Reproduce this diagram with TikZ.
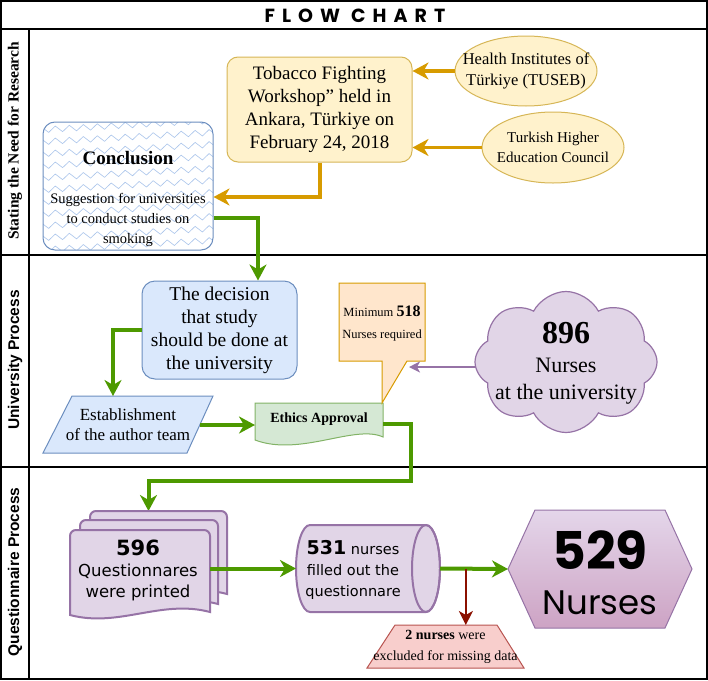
\documentclass[tikz,border=0pt]{standalone}
\usepackage{fontspec}
\setmainfont{Liberation Serif}
\setsansfont{Liberation Sans}
\newfontfamily\verd{DejaVu Sans}
\newfontfamily\comicf{Poppins}
\newfontfamily\titlef[LetterSpace=37]{Poppins}
\usetikzlibrary{arrows.meta,shapes.geometric,shapes.symbols,decorations.pathmorphing,calc}
\definecolor{yfill}{HTML}{FFF2CC}
\definecolor{ydraw}{HTML}{D6B656}
\definecolor{gld}{HTML}{D79B00}
\definecolor{bfill}{HTML}{DAE8FC}
\definecolor{bdraw}{HTML}{6C8EBF}
\definecolor{zzc}{HTML}{A9C4EB}
\definecolor{gfill}{HTML}{D5E8D4}
\definecolor{gdraw}{HTML}{82B366}
\definecolor{grn}{HTML}{4D9900}
\definecolor{ofill}{HTML}{FFE6CC}
\definecolor{odraw}{HTML}{D79B00}
\definecolor{pfill}{HTML}{E1D5E7}
\definecolor{pdraw}{HTML}{9673A6}
\definecolor{hextop}{HTML}{E4D6EA}
\definecolor{hexbot}{HTML}{CDA3C4}
\definecolor{rfill}{HTML}{F8CECC}
\definecolor{rdraw}{HTML}{B85450}
\definecolor{darkred}{HTML}{8B1000}
\newcommand\qdocpath[4]{(#1,#4) -- (#1,{#2+6}) to[out=90,in=180] ({#1+6},#2) -- ({#3-6},#2) to[out=0,in=90] (#3,{#2+6}) -- (#3,{#4-3}) .. controls ({#3-0.35*(#3-#1)},{#4-16}) and ({#1+0.35*(#3-#1)},{#4+13}) .. (#1,#4) -- cycle}
\begin{document}
\begin{tikzpicture}[x=1pt,y=-1pt,
  lane/.style={line width=1.5pt},
  ghost/.style={inner sep=0pt, outer sep=0pt},
  grarrow/.style={draw=grn, line width=4pt, -{Stealth[length=16pt,width=17pt,inset=5pt]}},
  goldarrow/.style={draw=gld, line width=3.5pt, -{Stealth[length=16pt,width=17pt,inset=5pt]}},
  purparrow/.style={draw=pdraw, line width=1.5pt, -{Stealth[length=11pt,width=11pt,inset=3pt]}},
  redarrow/.style={draw=darkred, line width=2pt, -{Stealth[length=14pt,width=14pt,inset=4pt]}}
]
\useasboundingbox (0,0) rectangle (708,680);
% frame and lanes
\draw[lane] (1,1) rectangle (707,679);
\draw[lane] (1,29) -- (707,29);
\draw[lane] (29,29) -- (29,679);
\draw[lane] (1,255) -- (707,255);
\draw[lane] (1,467) -- (707,467);
\node[font=\titlef\bfseries\fontsize{19}{22}\selectfont] (title) at (355,16) {FLOW CHART};
\node[rotate=90, font=\bfseries\fontsize{15.5}{18}\selectfont] (lane1) at (15,141) {Stating the Need for Research};
\node[rotate=90, font=\sffamily\bfseries\fontsize{15.5}{18}\selectfont] (lane2) at (15,360) {University Process};
\node[rotate=90, font=\sffamily\bfseries\fontsize{15.5}{18}\selectfont] (lane3) at (15,572) {Questionnaire Process};

% ---------- lane 1
\node[draw=ydraw, fill=yfill, line width=1pt, rounded corners=11pt, minimum width=185pt, minimum height=105pt, align=center, font=\fontsize{19}{23}\selectfont] (tob) at (319.5,109.5) {Tobacco Fighting\\Workshop” held in\\Ankara, Türkiye on\\February 24, 2018};
\node[ellipse, draw=ydraw, fill=yfill, line width=1pt, minimum width=142pt, minimum height=70pt, inner sep=0pt] (hit) at (526,71) {};
\node[align=center, font=\fontsize{16.5}{21}\selectfont] (hitT) at (hit) {Health Institutes of\\Türkiye (TUSEB)};
\node[ellipse, draw=ydraw, fill=yfill, line width=1pt, minimum width=142pt, minimum height=71pt, inner sep=0pt] (the) at (553,147.5) {};
\node[align=center, font=\fontsize{15}{20}\selectfont] (theT) at (the) {Turkish Higher\\Education Council};
\draw[goldarrow] (hit.west) -- (hit.west -| tob.east);
\draw[goldarrow] (the.west) -- (the.west -| tob.east);

% conclusion with zigzag pattern
\begin{scope}
\clip[rounded corners=12pt] (43,122) rectangle (213,250);
\fill[white] (43,122) rectangle (213,250);
\foreach \yy in {118,130,...,262}
  \draw[zzc, line width=0.6pt, decorate, decoration={zigzag, segment length=14pt, amplitude=3pt}] (38,\yy) -- (220,\yy-10);
\end{scope}
\node[draw=bdraw, line width=1pt, rounded corners=12pt, minimum width=170pt, minimum height=128pt] (conc) at (128,186) {};
\node[font=\bfseries\fontsize{19}{22}\selectfont] (concT) at (128,158) {Conclusion};
\node[align=center, font=\fontsize{14.5}{20}\selectfont] (concS) at (128,220) {Suggestion for universities\\to conduct studies on\\smoking};
\draw[goldarrow, line width=4pt] (tob.south) |- (conc.east |- 0,197);

% ---------- lane 2
\node[draw=bdraw, fill=bfill, line width=1pt, rounded corners=13pt, minimum width=155pt, minimum height=98pt, align=center, font=\fontsize{19.5}{23}\selectfont] (dec) at (219.5,330) {The decision\\that study\\should be done at\\the university};
\draw[grarrow] (conc.east |- 0,218) -| (dec.north -| 258,0);
\filldraw[draw=bdraw, fill=bfill, line width=1pt] (72,396) -- (213,396) -- (187,453) -- (43,453) -- cycle;
\node[ghost, minimum width=170pt, minimum height=57pt, align=center, font=\fontsize{17}{20}\selectfont] (para) at (128,424.5) {Establishment\\of the author team};
\draw[grarrow] (dec.west) -| (para.north -| 113,0);
\coordinate (paraE) at (200,425);
% ethics approval document
\filldraw[draw=gdraw, fill=gfill, line width=1pt] (255,403) -- (383,403) -- (383,437) .. controls (355,424) and (300,457) .. (255,440) -- cycle;
\node[ghost, minimum width=128pt, minimum height=32pt, font=\bfseries\fontsize{14}{16}\selectfont] (eth) at (319,419) {Ethics Approval};
\draw[grarrow] (paraE) -- (eth.west |- paraE);
% callout
\filldraw[draw=odraw, fill=ofill, line width=1pt] (339,283) -- (425,283) -- (425,361) -- (407,361) -- (382,403) -- (382,361) -- (339,361) -- cycle;
\node[ghost, minimum width=86pt, minimum height=78pt, align=center, font=\fontsize{12.5}{22}\selectfont] (cal) at (382,324) {Minimum {\bfseries\fontsize{16}{22}\selectfont 518}\\Nurses required};
\coordinate (calP) at (409,367);
\coordinate (clL) at (495,367);
\draw[purparrow] (clL) -- (calP);
\node[cloud, cloud puffs=8, cloud puff arc=125, aspect=1.3, draw=pdraw, fill=pfill, line width=1.2pt, minimum width=182pt, minimum height=141pt] (cl) at (566,362) {};
\node[font=\bfseries\fontsize{32}{34}\selectfont] (clN) at (566,333) {896};
\node[align=center, font=\fontsize{22}{27}\selectfont] (clT) at (566,381) {Nurses\\at the university};
\draw[grarrow] (eth.east |- 0,424) -| (411,481) -| (148.5,511);

% ---------- lane 3
\filldraw[draw=pdraw, fill=pfill, line width=2pt] \qdocpath{90}{511}{227}{597};
\filldraw[draw=pdraw, fill=pfill, line width=2pt] \qdocpath{80}{520}{218}{607};
\filldraw[draw=pdraw, fill=pfill, line width=2pt] \qdocpath{70}{530}{210}{615};
\node[ghost, minimum width=157pt, minimum height=106pt] (docs) at (148.5,564) {};
\node[ghost, minimum width=140pt, minimum height=87pt] (qdoc) at (140,572) {};
\node[align=center, font=\verd\fontsize{16.5}{21}\selectfont] (qdocT) at (138,570) {{\bfseries\fontsize{21}{21}\selectfont 596}\\Questionnares\\were printed};
% cylinder
\filldraw[draw=pdraw, fill=pfill, line width=2pt] (310,525) -- (426,525) arc[start angle=90, end angle=-90, x radius=14pt, y radius=43.5pt] -- (310,612) arc[start angle=270, end angle=90, x radius=14pt, y radius=43.5pt] -- cycle;
\draw[draw=pdraw, line width=2pt] (426,568.5) ellipse [x radius=14pt, y radius=43.5pt];
\node[ghost, minimum width=144pt, minimum height=87pt] (cyl) at (368,568.5) {};
\node[align=center, font=\verd\fontsize{14.5}{21}\selectfont] (cylT) at (353,570) {{\bfseries\fontsize{19}{21}\selectfont 531} nurses\\filled out the\\questionnare};
\draw[grarrow] (qdoc.east |- cyl.west) -- (cyl.west);
% hexagon
\path[draw=pdraw, line width=1pt, top color=hextop, bottom color=hexbot] (508,569) -- (535,510) -- (665,510) -- (692,569) -- (665,628) -- (535,628) -- cycle;
\node[ghost, minimum width=184pt, minimum height=118pt] (hex) at (600,569) {};
\node[font=\comicf\bfseries\fontsize{52}{54}\selectfont] (hexN) at (600,550) {529};
\node[font=\comicf\fontsize{34}{36}\selectfont] (hexT) at (600,603) {Nurses};
\draw[grarrow] (cyl.east) -- (hex.west);
% trapezoid
\filldraw[draw=rdraw, fill=rfill, line width=1pt] (395,625) -- (497,625) -- (524,668) -- (367,668) -- cycle;
\node[ghost, minimum width=157pt, minimum height=43pt, align=center, font=\fontsize{14}{21}\selectfont] (trap) at (445.5,646.5) {{\bfseries 2 nurses} were\\excluded for missing data};
\coordinate (split) at ($(cyl.east)!0.38!(hex.west)$);
\draw[redarrow] (split) -- (trap.north -| split);
\end{tikzpicture}
\end{document}
